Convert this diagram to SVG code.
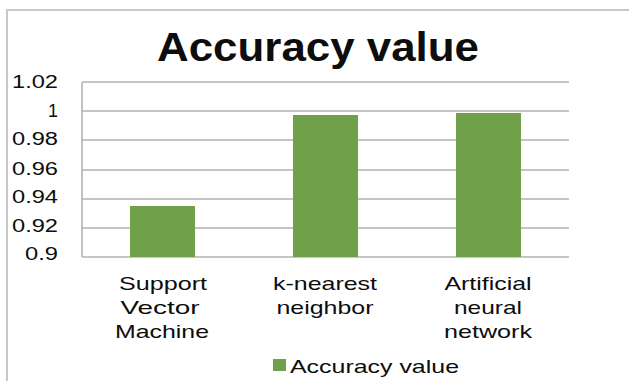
<svg xmlns="http://www.w3.org/2000/svg" width="629" height="381" viewBox="0 0 629 381">
<style>
.t{font-family:"Liberation Sans",Arial,sans-serif;fill:#0d0d0d}
.y{font-size:18px;text-anchor:end}
.c{font-size:19px;text-anchor:middle}
.g{stroke:#b3b3b3;stroke-width:1.6;fill:none}
.bar{fill:#70a04a}
</style>
<rect width="629" height="381" fill="#ffffff"/>
<path d="M7,381 V10 H629" fill="none" stroke="#c8c8c8" stroke-width="2"/>
<g id="title"><text class="t" x="157" y="61" font-size="40" font-weight="bold" textLength="322" lengthAdjust="spacingAndGlyphs">Accuracy value</text></g>
<g id="grid">
<path class="g" d="M82,82H569M82,111H569M82,140H569M82,170H569M82,199H569M82,228H569M82,257H569M82,82V257"/>
</g>
<g id="yaxis">
<text class="t y" x="58" y="88" textLength="46" lengthAdjust="spacingAndGlyphs">1.02</text>
<text class="t y" x="58" y="117">1</text>
<text class="t y" x="58" y="145" textLength="46" lengthAdjust="spacingAndGlyphs">0.98</text>
<text class="t y" x="58" y="175" textLength="46" lengthAdjust="spacingAndGlyphs">0.96</text>
<text class="t y" x="58" y="203" textLength="46" lengthAdjust="spacingAndGlyphs">0.94</text>
<text class="t y" x="58" y="232" textLength="46" lengthAdjust="spacingAndGlyphs">0.92</text>
<text class="t y" x="58" y="260" textLength="33" lengthAdjust="spacingAndGlyphs">0.9</text>
</g>
<g id="svm">
<rect class="bar" x="130" y="206" width="65" height="51"/>
<text class="t c" x="163" y="290" textLength="88" lengthAdjust="spacingAndGlyphs">Support</text>
<text class="t c" x="160" y="314" textLength="79" lengthAdjust="spacingAndGlyphs">Vector</text>
<text class="t c" x="162" y="338" textLength="94" lengthAdjust="spacingAndGlyphs">Machine</text>
</g>
<g id="knn">
<rect class="bar" x="293" y="115" width="65" height="142"/>
<text class="t c" x="325" y="290" textLength="104" lengthAdjust="spacingAndGlyphs">k-nearest</text>
<text class="t c" x="325" y="314" textLength="97" lengthAdjust="spacingAndGlyphs">neighbor</text>
</g>
<g id="ann">
<rect class="bar" x="456" y="113" width="65" height="144"/>
<text class="t c" x="488" y="290" textLength="87" lengthAdjust="spacingAndGlyphs">Artificial</text>
<text class="t c" x="488" y="314" textLength="68" lengthAdjust="spacingAndGlyphs">neural</text>
<text class="t c" x="488" y="338" textLength="88" lengthAdjust="spacingAndGlyphs">network</text>
</g>
<g id="legend">
<rect class="bar" x="273" y="359" width="13" height="12"/>
<text class="t" x="290" y="373" font-size="19" textLength="169" lengthAdjust="spacingAndGlyphs">Accuracy value</text>
</g>
</svg>
